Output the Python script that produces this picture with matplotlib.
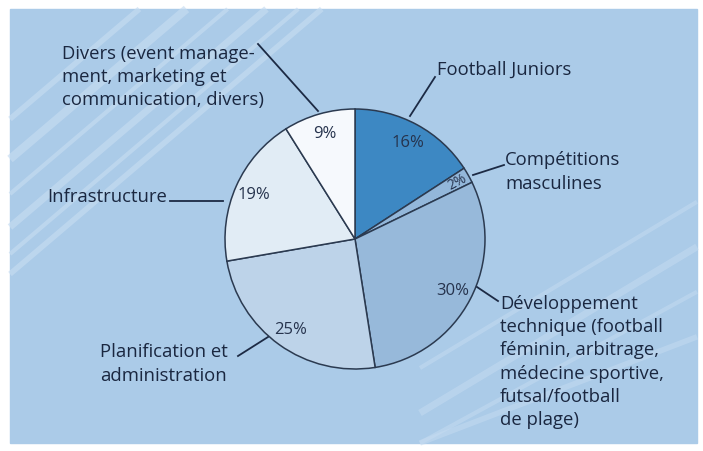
import numpy as np
import matplotlib.pyplot as plt

# Donnees du camembert (sens horaire depuis midi)
categories = [
    "Football Juniors",
    "Compétitions\nmasculines",
    "Développement\ntechnique (football\nféminin, arbitrage,\nmédecine sportive,\nfutsal/football\nde plage)",
    "Planification et\nadministration",
    "Infrastructure",
    "Divers (event manage-\nment, marketing et\ncommunication, divers)",
]
values = [16, 2, 30, 25, 19, 9]
colors = ["#3d88c3", "#93b7da", "#97b9da", "#bdd3e9", "#e1ecf5", "#f6f9fd"]

W, H = 703, 452
BG = "#abcbe8"
TXT = "#1a2740"

plt.rcParams['font.family'] = ['Open Sans', 'DejaVu Sans']

fig = plt.figure(figsize=(W / 100, H / 100), dpi=100)
ax = fig.add_axes([0, 0, 1, 1])
ax.set_xlim(0, W)
ax.set_ylim(0, H)
ax.axis('off')

# Fond bleu avec cadre blanc
ax.add_patch(plt.Rectangle((10, 8), 687, 434, color=BG, zorder=0))

# Rayures decoratives (haut gauche)
for y0, lw in [(120, 4), (160, 6), (195, 3), (228, 5), (255, 3), (275, 4)]:
    x_end = 10 + (y0 - 10) / 0.85
    ax.plot([10, x_end], [H - y0, H - 10], color="#c6dcf1", lw=lw, alpha=0.65,
            solid_capstyle='butt', zorder=0.5)
# Rayures decoratives (bas droite)
for off, lw in [(0, 4), (45, 3), (90, 5), (135, 3)]:
    xs = np.array([420, 697])
    ys = 8 + (xs - 420) * 0.6 - 60 + off
    ys = np.clip(ys, 8, 442)
    ax.plot(xs, ys, color="#c6dcf1", lw=lw, alpha=0.5,
            solid_capstyle='butt', zorder=0.5)

cx, cy, r = 355, H - 240, 130
wedges, texts = ax.pie(values, colors=colors, startangle=90, counterclock=False,
                       center=(cx, cy), radius=r, frame=True,
                       wedgeprops=dict(edgecolor="#2b3a50", linewidth=1.1))
ax.set_xlim(0, W)
ax.set_ylim(0, H)
ax.set_aspect('equal')

# Pourcentages
for w, v in zip(wedges, values):
    ang = np.deg2rad((w.theta1 + w.theta2) / 2)
    d = 0.85 * r if v > 2 else 0.9 * r
    fs = 12 if v > 2 else 10
    ax.text(cx + d * np.cos(ang), cy + d * np.sin(ang), f"{v}%",
            ha='center', va='center', fontsize=fs, color="#26334d",
            rotation=0 if v > 2 else 28, zorder=5)

# Etiquettes et traits de rappel (positions en pixels de la figure)
label_pos = [(437, 70), (505, 172), (500, 362), (100, 364), (47, 197), (62, 77)]
line_from = [(435, 78), (504, 166), (498, 302), (238, 357), (170, 202), (258, 45)]
line_to = [(410, 117), (473, 176), (477, 288), (268, 338), (223, 202), (318, 112)]

for lab, (tx, ty), (x1, y1), (x2, y2) in zip(categories, label_pos, line_from, line_to):
    ax.text(tx, H - ty, lab, ha='left', va='center', fontsize=13.3,
            color=TXT, linespacing=1.37, zorder=5)
    ax.plot([x1, x2], [H - y1, H - y2], color="#1c2a44", lw=1.3, zorder=4)

fig.savefig("out.png", dpi=100, facecolor="white")
